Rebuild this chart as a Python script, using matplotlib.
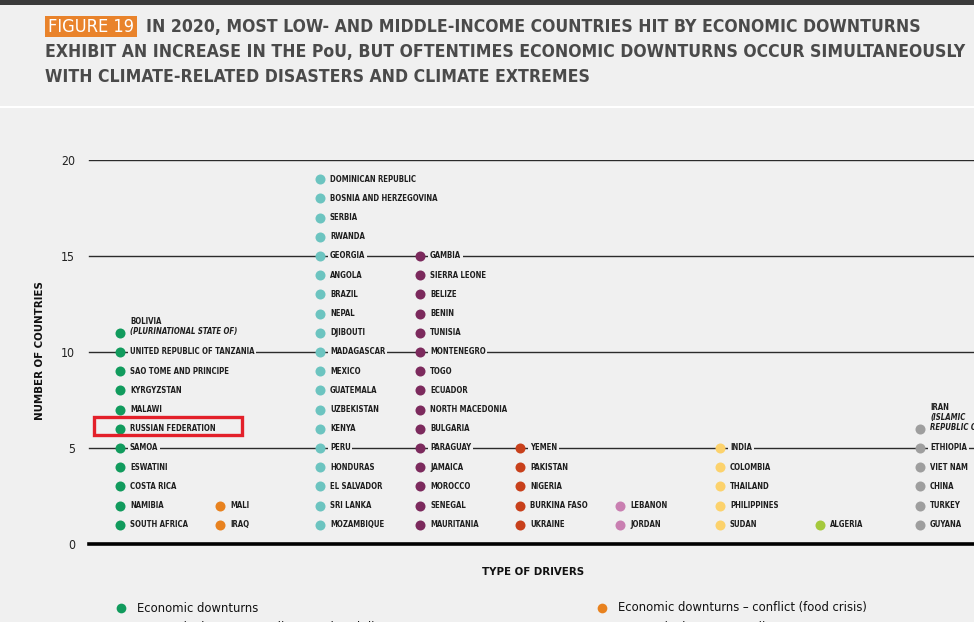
import os
import matplotlib
matplotlib.use('Agg')
import matplotlib.pyplot as plt
from matplotlib import font_manager as fm
from matplotlib.patches import Rectangle

# Countries per driver type, listed from the bottom (count 1) upwards
drivers = ['Economic downturns',
           'Economic downturns \u2013 conflict (food crisis)',
           'Economic downturns \u2013 climate-related disasters',
           'Economic downturns \u2013 climate extremes']
colors = ['#119b5d', '#e8821f', '#6cc4c0', '#7c2a5d', '#c8401b',
          '#c97fb1', '#fcd26c', '#a5c93c', '#9e9e9e']

countries = [
    ['SOUTH AFRICA', 'NAMIBIA', 'COSTA RICA', 'ESWATINI', 'SAMOA', 'RUSSIAN FEDERATION',
     'MALAWI', 'KYRGYZSTAN', 'SAO TOME AND PRINCIPE', 'UNITED REPUBLIC OF TANZANIA',
     'BOLIVIA\n(PLURINATIONAL STATE OF)'],
    ['IRAQ', 'MALI'],
    ['MOZAMBIQUE', 'SRI LANKA', 'EL SALVADOR', 'HONDURAS', 'PERU', 'KENYA', 'UZBEKISTAN',
     'GUATEMALA', 'MEXICO', 'MADAGASCAR', 'DJIBOUTI', 'NEPAL', 'BRAZIL', 'ANGOLA',
     'GEORGIA', 'RWANDA', 'SERBIA', 'BOSNIA AND HERZEGOVINA', 'DOMINICAN REPUBLIC'],
    ['MAURITANIA', 'SENEGAL', 'MOROCCO', 'JAMAICA', 'PARAGUAY', 'BULGARIA',
     'NORTH MACEDONIA', 'ECUADOR', 'TOGO', 'MONTENEGRO', 'TUNISIA', 'BENIN', 'BELIZE',
     'SIERRA LEONE', 'GAMBIA'],
    ['UKRAINE', 'BURKINA FASO', 'NIGERIA', 'PAKISTAN', 'YEMEN'],
    ['JORDAN', 'LEBANON'],
    ['SUDAN', 'PHILIPPINES', 'THAILAND', 'COLOMBIA', 'INDIA'],
    ['ALGERIA'],
    ['GUYANA', 'TURKEY', 'CHINA', 'VIET NAM', 'ETHIOPIA', 'IRAN\n(ISLAMIC\nREPUBLIC OF)'],
]
y_ticks = [0, 5, 10, 15, 20]

title_lines = ['IN 2020, MOST LOW- AND MIDDLE-INCOME COUNTRIES HIT BY ECONOMIC DOWNTURNS',
               'EXHIBIT AN INCREASE IN THE PoU, BUT OFTENTIMES ECONOMIC DOWNTURNS OCCUR SIMULTANEOUSLY',
               'WITH CLIMATE-RELATED DISASTERS AND CLIMATE EXTREMES']


# pick a condensed face if one is installed, else a plain sans
def pick_font(bold, italic):
    best = None
    for f in fm.fontManager.ttflist:
        key = (f.name + ' ' + os.path.basename(f.fname)).lower()
        cond = str(f.stretch) in ('condensed', 'semi-condensed') or 'condensed' in key or 'narrow' in key
        if not cond or 'extra' in key or 'ultra' in key:
            continue
        w = f.weight
        if not isinstance(w, int):
            w = {'bold': 700, 'normal': 400, 'regular': 400, 'medium': 500,
                 'light': 300}.get(str(w).lower(), 400)
        isi = str(f.style) in ('italic', 'oblique')
        if (w >= 600) != bold or isi != italic:
            continue
        score = abs(w - (700 if bold else 400)) + (500 if 'semi' in key else 0)
        if best is None or (score, f.fname) < best:
            best = (score, f.fname)
    if best:
        return fm.FontProperties(fname=best[1])
    return fm.FontProperties(family=['Liberation Sans', 'DejaVu Sans'],
                             weight='bold' if bold else 'normal',
                             style='italic' if italic else 'normal')


f_reg = pick_font(False, False)
f_bold = pick_font(True, False)
f_bi = pick_font(True, True)

bg = '#f0f0f0'
W, H = 974, 622
fig = plt.figure(figsize=(W / 100, H / 100), dpi=100, facecolor=bg)
renderer = fig.canvas.get_renderer()


def fx(px):
    return px / W


def fy(py):
    return 1 - py / H


def fp(base, size):
    p = base.copy()
    p.set_size(size)
    return p


def fitted_size(base, text, target, size=10.0, vertical=False):
    for _ in range(3):
        t = fig.text(0, 0, text, fontproperties=fp(base, size), rotation=90 if vertical else 0)
        bb = t.get_window_extent(renderer)
        t.remove()
        size = size * target / (bb.height if vertical else bb.width)
    return size


# header
fig.patches.append(Rectangle((0, fy(5)), 1, 5 / H, transform=fig.transFigure,
                             facecolor='#3b3b3b', edgecolor='none'))
fig.patches.append(Rectangle((0, fy(108)), 1, 2 / H, transform=fig.transFigure,
                             facecolor='white', edgecolor='none'))
fig.patches.append(Rectangle((fx(45), fy(37)), 92 / W, 21 / H, transform=fig.transFigure,
                             facecolor='#e9832b', edgecolor='none'))
fig.text(fx(91), fy(27), 'FIGURE 19', color='white', ha='center', va='center',
         fontproperties=fp(f_reg, fitted_size(f_reg, 'FIGURE 19', 86)))
title_col = '#4a4a4a'
ts = fitted_size(f_bold, title_lines[1], 922)
for (px, py), line in zip([(146, 27), (45, 52), (45, 77)], title_lines):
    fig.text(fx(px), fy(py), line, color=title_col, va='center',
             fontproperties=fp(f_bold, ts))

# chart area
ax = fig.add_axes([fx(85), fy(544), (W - 85) / W, 384 / H])
ax.set_facecolor(bg)
ax.set_xlim(-0.35, 8.54)
ax.set_ylim(0, 20)
for s in ax.spines.values():
    s.set_visible(False)
ax.set_xticks([])
ax.set_yticks(y_ticks)

leg_size = fitted_size(f_reg, drivers[1], 246)
tick_fp = fp(f_reg, leg_size * 0.95)
ax.set_yticklabels([str(t) for t in y_ticks], fontproperties=tick_fp, color='#222222')
ax.tick_params(axis='y', length=0, pad=7)

for t in y_ticks[1:]:
    ax.axhline(t, xmin=0.004, xmax=1, color='#2b2b2b', lw=1.0, zorder=1)
ax.axhline(0, xmin=0.004, xmax=1, color='black', lw=2.6, zorder=1, clip_on=False)

lab_size = fitted_size(f_bold, 'SOUTH AFRICA UNITED REPUBLIC OF TANZANIA', 57 + 123 + 4)
lab_fp = fp(f_bold, lab_size)
lab_it = fp(f_bi, lab_size)

for i, names in enumerate(countries):
    counts = range(1, len(names) + 1)
    ax.scatter([i] * len(names), list(counts), s=52, color=colors[i], zorder=3,
               linewidths=0)
    for c, name in zip(counts, names):
        lines = name.split('\n')
        if len(lines) == 1:
            ax.text(i + 0.1, c, name, fontproperties=lab_fp, va='center', ha='left',
                    color='#1e1e1e', zorder=4,
                    bbox=dict(facecolor=bg, edgecolor='none', pad=1.2))
        else:
            # first line upright, the rest italic, stacked upwards from the dot
            n = len(lines)
            for k, ln in enumerate(lines):
                yy = c + 0.08 + (n - 1 - k) * 0.52
                ax.text(i + 0.1, yy, ln, fontproperties=lab_fp if k == 0 else lab_it,
                        va='center', ha='left', color='#1e1e1e', zorder=4, clip_on=False)

# highlight box
fig.patches.append(Rectangle((fx(94), fy(435)), 148 / W, 18 / H, transform=fig.transFigure,
                             facecolor='none', edgecolor='#e3202a', lw=2.4, zorder=10))

fig.text(fx(40), fy(351), 'NUMBER OF COUNTRIES', rotation=90, ha='center', va='center',
         color='#111111',
         fontproperties=fp(f_bold, fitted_size(f_bold, 'NUMBER OF COUNTRIES', 138, vertical=True)))
fig.text(fx(533), fy(572), 'TYPE OF DRIVERS', ha='center', va='center', color='#111111',
         fontproperties=fp(f_bold, fitted_size(f_bold, 'TYPE OF DRIVERS', 103)))

# legend (two columns, second row cut by the page edge)
leg_fp = fp(f_reg, leg_size)
leg_pos = [(121, 608), (602, 608), (121, 628), (602, 628)]
for k, (px, py) in enumerate(leg_pos):
    fig.lines.append(plt.Line2D([fx(px)], [fy(py)], transform=fig.transFigure,
                                marker='o', ms=7, color=colors[k], lw=0, mec='none'))
    fig.text(fx(px + 16), fy(py), drivers[k], fontproperties=leg_fp,
             va='center', ha='left', color='#111111')

fig.savefig('out.png', dpi=100, facecolor=bg)
